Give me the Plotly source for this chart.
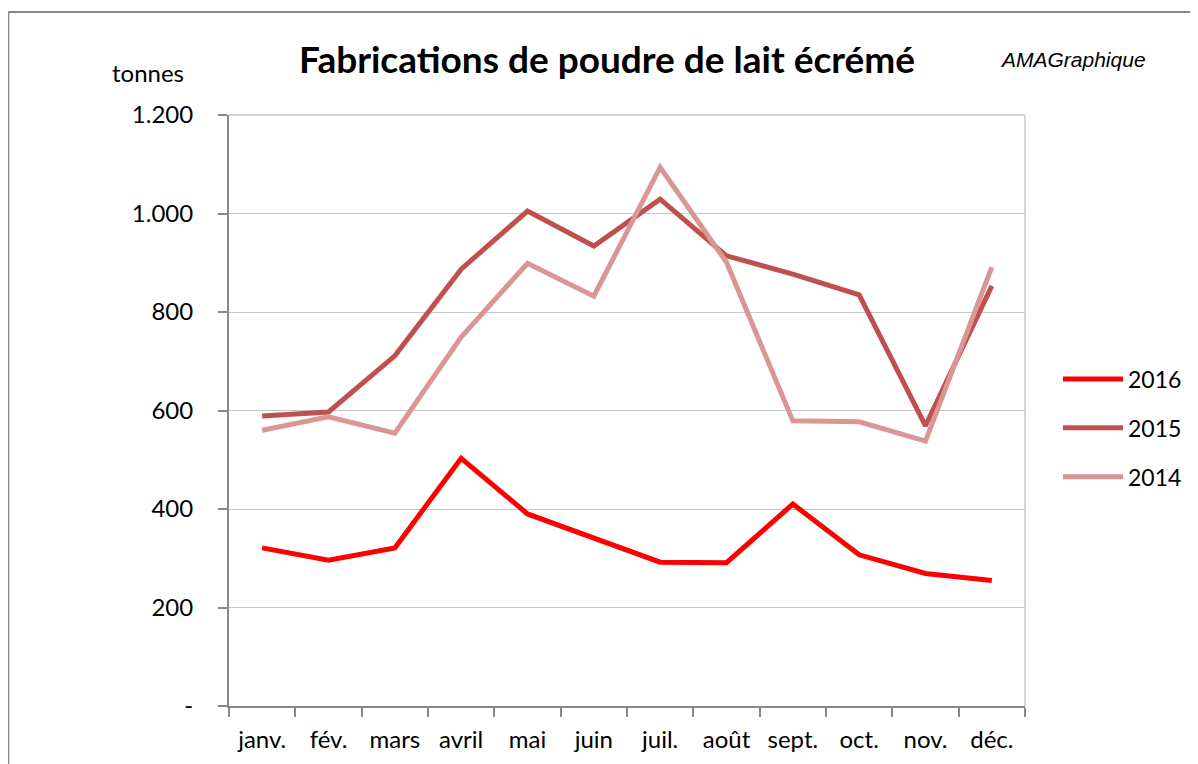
import plotly.graph_objects as go

months = ["janv.", "fév.", "mars", "avril", "mai", "juin", "juil.", "août", "sept.", "oct.", "nov.", "déc."]
y2016 = [321, 296, 321, 503, 390, 341, 292, 291, 410, 307, 269, 255]
y2015 = [589, 597, 711, 887, 1005, 934, 1029, 914, 877, 835, 569, 853]
y2014 = [560, 587, 554, 749, 899, 832, 1094, 901, 579, 577, 538, 891]
ytick_vals = [0, 200, 400, 600, 800, 1000, 1200]
ytick_text = ["-", "200", "400", "600", "800", "1.000", "1.200"]

FONT = "Lato"

fig = go.Figure()
for name, vals, color in [("2016", y2016, "#FF0000"), ("2015", y2015, "#C0504D"), ("2014", y2014, "#D99694")]:
    fig.add_trace(go.Scatter(x=months, y=vals, mode="lines", name=name, legendgroup=name,
                             line=dict(color=color, width=5)))

W, H = 1190, 756
L, R, T, B = 221, 172, 107, 58
fig.update_layout(
    width=W, height=H,
    margin=dict(l=L, r=R, t=T, b=B),
    paper_bgcolor="white", plot_bgcolor="white",
    font=dict(family=FONT, size=24, color="black"),
    title=dict(text="<b>Fabrications de poudre de lait écrémé</b>", x=(607 - 8) / W, xanchor="center",
               y=1 - (60 - 8) / H, yanchor="middle", font=dict(family=FONT, size=37, color="black")),
    legend=dict(x=(1058 - 229) / 797, xref="paper", xanchor="left", y=(706 - 428) / 591, yanchor="middle",
                font=dict(size=23), itemwidth=60, tracegroupgap=16, traceorder="grouped",
                bgcolor="rgba(0,0,0,0)"),
    showlegend=True,
)
fig.update_xaxes(type="category", range=[-0.5, 11.5], tickson="boundaries",
                 ticks="outside", ticklen=9, tickcolor="#888888", tickwidth=1.5,
                 showline=True, linecolor="#888888", linewidth=2, mirror=False,
                 showgrid=False, tickfont=dict(size=24), ticklabelstandoff=11)
fig.update_yaxes(range=[0, 1200], tickvals=ytick_vals, ticktext=ytick_text,
                 ticks="outside", ticklen=9, tickcolor="#888888", tickwidth=1.5,
                 showline=True, linecolor="#888888", linewidth=2,
                 showgrid=True, gridcolor="#C8C8C8", gridwidth=1.2,
                 tickfont=dict(size=24), zeroline=False, ticklabelstandoff=20)
# plot-area box (top/right light gray)
fig.add_shape(type="line", xref="paper", yref="paper", x0=0, x1=1, y0=1, y1=1,
              line=dict(color="#C8C8C8", width=1.5))
fig.add_shape(type="line", xref="paper", yref="paper", x0=1, x1=1, y0=0, y1=1,
              line=dict(color="#C8C8C8", width=1.5))

# helpers: page pixel -> paper coordinates
def px(x):
    return (x - 229) / 797
def py(y):
    return (706 - y) / 591

# outer chart border (left and top)
fig.add_shape(type="line", xref="paper", yref="paper", x0=px(8), x1=px(1200), y0=py(12), y1=py(12),
              line=dict(color="#888888", width=2))
fig.add_shape(type="line", xref="paper", yref="paper", x0=px(8), x1=px(8), y0=py(12), y1=py(770),
              line=dict(color="#888888", width=2))
fig.add_annotation(text="tonnes", xref="paper", yref="paper", x=px(148), y=py(72),
                   showarrow=False, font=dict(size=24), xanchor="center", yanchor="middle")
fig.add_annotation(text="<i>AMAGraphique</i>", xref="paper", yref="paper", x=px(1074), y=py(60),
                   showarrow=False, font=dict(family="Liberation Sans", size=21),
                   xanchor="center", yanchor="middle")

fig.write_html("out.html")
